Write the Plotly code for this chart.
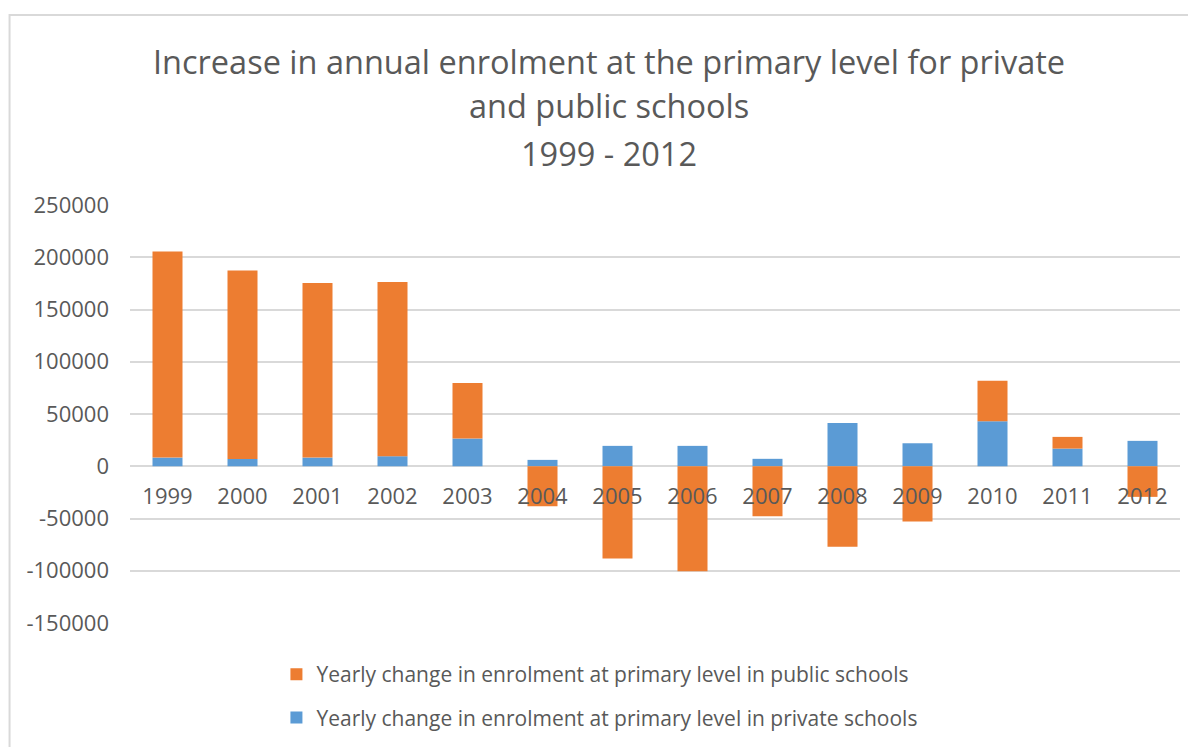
import plotly.graph_objects as go

years = ["1999", "2000", "2001", "2002", "2003", "2004", "2005", "2006",
         "2007", "2008", "2009", "2010", "2011", "2012"]
private_change = [8300, 7000, 8300, 9600, 26500, 6100, 19500, 19500,
                  7100, 41500, 22000, 43000, 16900, 24300]
public_change = [197200, 180400, 167000, 166700, 53200, -38200, -88300, -100400,
                 -47800, -77100, -52900, 38900, 11200, -29300]
title_lines = ["Increase in annual enrolment at the primary level for private",
               "and public schools",
               "1999 - 2012"]
y_ticks = [250000, 200000, 150000, 100000, 50000, 0, -50000, -100000, -150000]
y_tick_labels = [str(v) for v in y_ticks]
name_public = "Yearly change in enrolment at primary level in public schools"
name_private = "Yearly change in enrolment at primary level in private schools"

FONT = "Open Sans"
TXT = "#595959"
GRID = "#D9D9D9"
ymin, ymax = -150000, 250000

OFF = 8  # page body margin
W, H = 1196, 747
# plot area in screen pixels
PX0, PX1, PY0, PY1 = 129.5, 1180, 205, 623
L = PX0 - OFF
R = W - (PX1 - OFF)
T = PY0 - OFF
B = H - (PY1 - OFF)
plot_h = PY1 - PY0
plot_w = PX1 - PX0

def py(pix):
    return (PY1 - pix) / plot_h

def px(pix):
    return (pix - PX0) / plot_w

fig = go.Figure()
fig.add_trace(go.Bar(x=years, y=private_change, name=name_private,
                     marker=dict(color="#5B9BD5", line=dict(width=0)),
                     width=0.4, legendgroup="b", legendrank=2))
fig.add_trace(go.Bar(x=years, y=public_change, name=name_public,
                     marker=dict(color="#ED7D31", line=dict(width=0)),
                     width=0.4, legendgroup="a", legendrank=1))

zero_pos = (0 - ymin) / (ymax - ymin)

annotations = []
for line, ypix in zip(title_lines, [61, 106, 153]):
    annotations.append(dict(text=line, xref="paper", yref="paper",
                            x=px(609), y=py(ypix), xanchor="center", yanchor="middle",
                            showarrow=False, font=dict(family=FONT, size=32.5, color=TXT)))

fig.update_layout(
    width=W, height=H,
    margin=dict(l=L, r=R, t=T, b=B, pad=0),
    paper_bgcolor="white", plot_bgcolor="white",
    barmode="relative",
    showlegend=True,
    legend=dict(orientation="v", x=px(276), xanchor="left", y=py(654), yanchor="top",
                traceorder="grouped", tracegroupgap=13,
                font=dict(family=FONT, size=21, color=TXT),
                bgcolor="rgba(0,0,0,0)"),
    xaxis=dict(type="category", categoryorder="array", categoryarray=years,
               anchor="free", position=zero_pos,
               showline=False, showgrid=False, zeroline=False, ticks="",
               tickfont=dict(family=FONT, size=22, color=TXT), ticklabelstandoff=15),
    yaxis=dict(range=[ymin, ymax], tickvals=y_ticks, ticktext=y_tick_labels,
               showgrid=True, gridcolor=GRID, gridwidth=1.5,
               zeroline=True, zerolinecolor=GRID, zerolinewidth=1.5,
               showline=False, ticks="",
               tickfont=dict(family=FONT, size=22, color=TXT), ticklabelstandoff=20),
    annotations=annotations,
    shapes=[dict(type="rect", xref="paper", yref="paper",
                 x0=px(9), x1=px(1220), y0=py(770), y1=py(15),
                 line=dict(color=GRID, width=2), fillcolor="rgba(0,0,0,0)", layer="below")],
)

fig.write_html("out.html")
